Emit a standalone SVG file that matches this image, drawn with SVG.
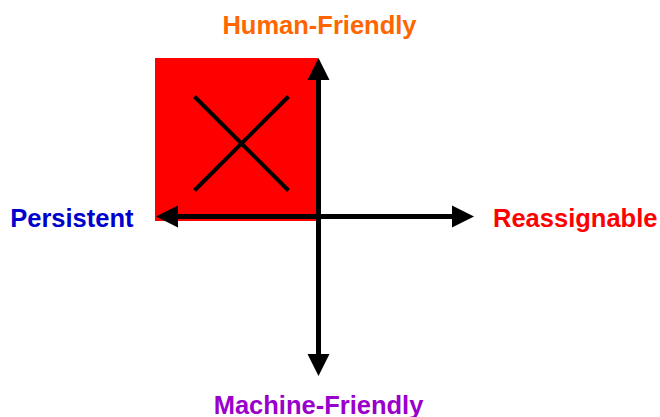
<svg xmlns="http://www.w3.org/2000/svg" width="660" height="417" viewBox="0 0 660 417">
<style>
.lbl{font-family:"Liberation Sans",Arial,sans-serif;font-weight:bold;font-size:25.5px}
.axis{stroke:#000;stroke-width:5;fill:none}
.x{stroke:#000;stroke-width:4;fill:none}
</style>
<rect width="660" height="417" fill="#fff"/>
<g id="quadrant">
<rect x="155" y="58" width="163" height="163" fill="#FF0000"/>
<line class="x" x1="194.5" y1="96.5" x2="288.5" y2="190.5"/>
<line class="x" x1="288.5" y1="96.5" x2="194.5" y2="190.5"/>
</g>
<g id="connectors">
<line class="axis" x1="318.5" y1="216.5" x2="318.5" y2="80"/>
<path d="M307.5,80 L318.5,58 L329.5,80 Z" fill="#000"/>
<line class="axis" x1="318.5" y1="216.5" x2="318.5" y2="354"/>
<path d="M307.5,354 L318.5,376 L329.5,354 Z" fill="#000"/>
<line class="axis" x1="318.5" y1="216.5" x2="178" y2="216.5"/>
<path d="M178,205.5 L156,216.5 L178,227.5 Z" fill="#000"/>
<line class="axis" x1="318.5" y1="216.5" x2="452" y2="216.5"/>
<path d="M452,205.5 L474,216.5 L452,227.5 Z" fill="#000"/>
</g>
<g id="human-friendly"><text class="lbl" x="319.5" y="34" text-anchor="middle" fill="#FF6600">Human-Friendly</text></g>
<g id="machine-friendly"><text class="lbl" x="318.5" y="414" text-anchor="middle" fill="#9900CC">Machine-Friendly</text></g>
<g id="persistent"><text class="lbl" x="133.5" y="227" text-anchor="end" fill="#0000CC">Persistent</text></g>
<g id="reassignable"><text class="lbl" x="493" y="227" fill="#FF0000">Reassignable</text></g>
</svg>
